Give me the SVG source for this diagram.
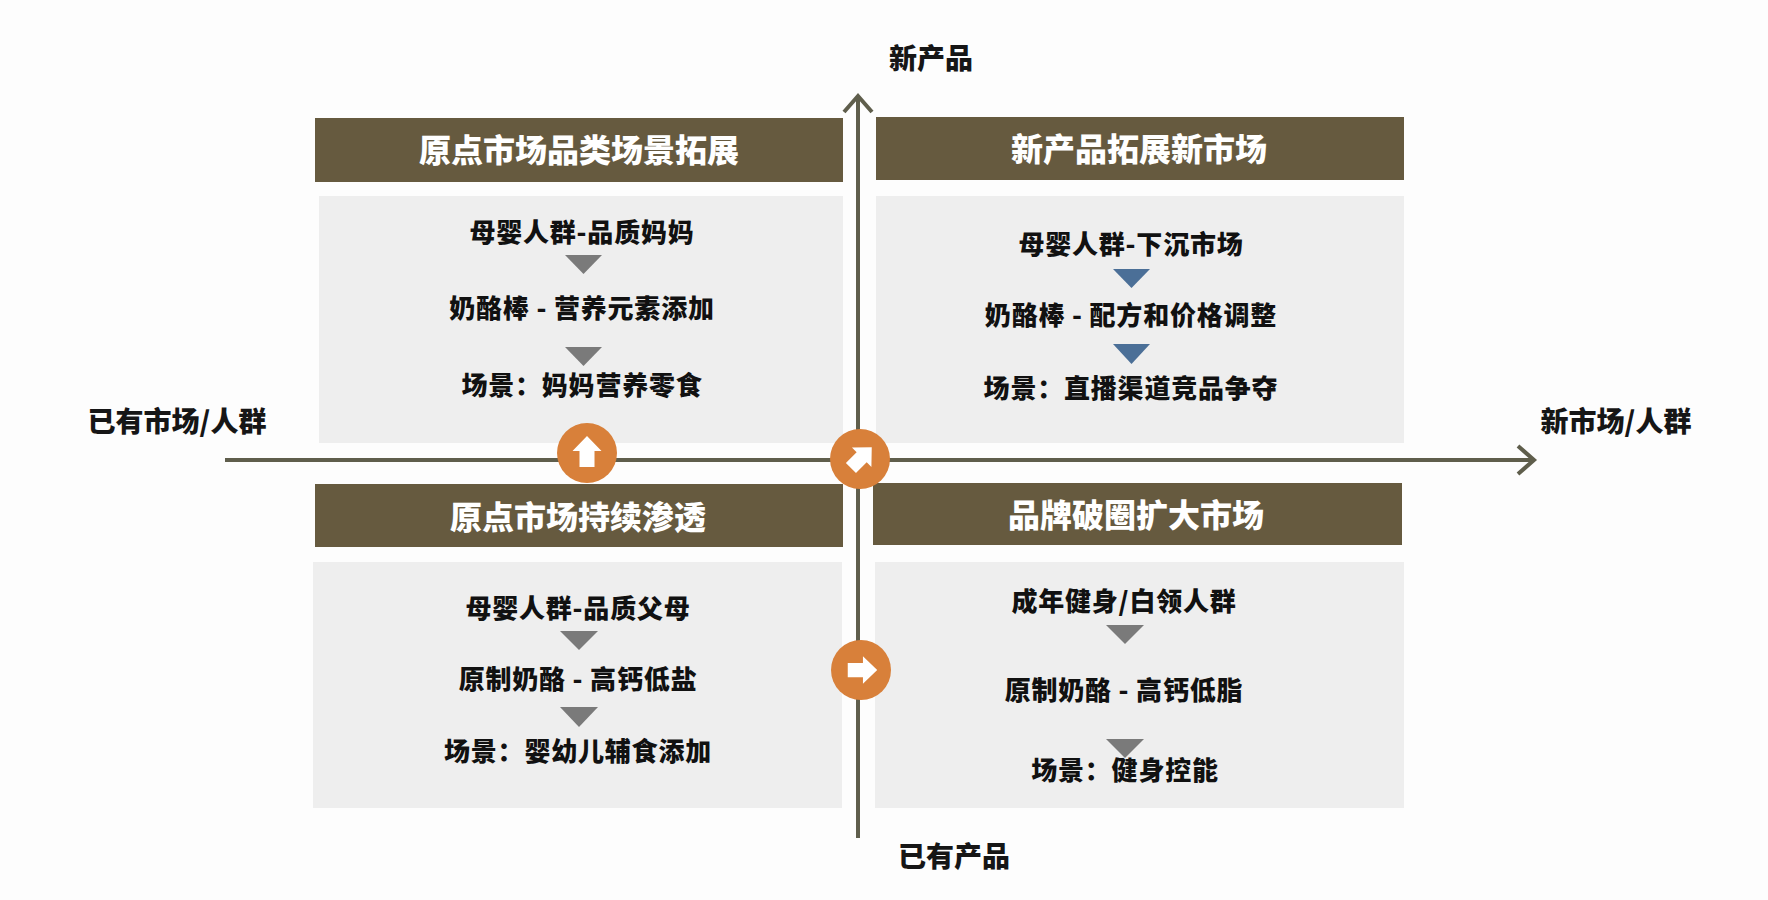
<svg xmlns="http://www.w3.org/2000/svg" xmlns:xlink="http://www.w3.org/1999/xlink" width="1768" height="900" viewBox="0 0 1768 900">
<style>
text{font-family:"Noto Sans CJK SC","Noto Sans",sans-serif;font-weight:700;dominant-baseline:central;text-anchor:middle}
.hdr{fill:#665a3f}
.hdrt{fill:#ffffff;font-size:32px;font-weight:900}
.box{fill:#eeeeee}
.body{fill:#111111;font-size:26px;font-weight:900;letter-spacing:0.8px}
.axt{fill:#161616;font-size:28px;font-weight:900}
.tri{fill:#7a7a7a}
.trib{fill:#4b6f97}
.axis{stroke:#5f5e4c;stroke-width:4;fill:none}
.circ{fill:#d8803a}
.ico{fill:#ffffff}
</style>
<defs>
<path id="upArrow" d="M0,-16 L14.5,-1 L7.5,-1 L7.5,15 L-7.5,15 L-7.5,-1 L-14.5,-1 Z"/>
</defs>
<rect x="0" y="0" width="1768" height="900" fill="#fdfdfd"/>

<g id="connectors">
  <line class="axis" x1="225" y1="460" x2="1533" y2="460"/>
  <polyline class="axis" points="1518,446 1534,460 1518,474"/>
  <line class="axis" x1="858" y1="838" x2="858" y2="97"/>
  <polyline class="axis" points="844,112 858,96 872,112"/>
</g>

<g id="axis-labels">
  <text class="axt" x="931" y="57">新产品</text>
  <text class="axt" x="954" y="855">已有产品</text>
  <text class="axt" x="177" y="420">已有市场/人群</text>
  <text class="axt" x="1616" y="420">新市场/人群</text>
</g>

<g id="q-top-left">
  <rect class="hdr" x="315" y="118" width="528" height="64"/>
  <text class="hdrt" x="579" y="148">原点市场品类场景拓展</text>
  <rect class="box" x="319" y="196" width="524" height="247"/>
  <text class="body" x="582" y="230">母婴人群-品质妈妈</text>
  <polygon class="tri" points="565,255 602,255 583.5,274"/>
  <text class="body" x="582" y="306">奶酪棒 - 营养元素添加</text>
  <polygon class="tri" points="565,347 602,347 583.5,366"/>
  <text class="body" x="582" y="383">场景：妈妈营养零食</text>
</g>

<g id="q-top-right">
  <rect class="hdr" x="876" y="117" width="528" height="63"/>
  <text class="hdrt" x="1139" y="147">新产品拓展新市场</text>
  <rect class="box" x="876" y="196" width="528" height="247"/>
  <text class="body" x="1131" y="242">母婴人群-下沉市场</text>
  <polygon class="trib" points="1113,269 1150,269 1131.5,288"/>
  <text class="body" x="1131" y="313">奶酪棒 - 配方和价格调整</text>
  <polygon class="trib" points="1113,344 1150,344 1131.5,364"/>
  <text class="body" x="1131" y="386">场景：直播渠道竞品争夺</text>
</g>

<g id="q-bottom-left">
  <rect class="hdr" x="315" y="484" width="528" height="63"/>
  <text class="hdrt" x="578" y="515">原点市场持续渗透</text>
  <rect class="box" x="313" y="562" width="529" height="246"/>
  <text class="body" x="578" y="606">母婴人群-品质父母</text>
  <polygon class="tri" points="560,631 598,631 579,650"/>
  <text class="body" x="578" y="677">原制奶酪 - 高钙低盐</text>
  <polygon class="tri" points="560,707 598,707 579,727"/>
  <text class="body" x="578" y="749">场景：婴幼儿辅食添加</text>
</g>

<g id="q-bottom-right">
  <rect class="hdr" x="873" y="483" width="529" height="62"/>
  <text class="hdrt" x="1136" y="513">品牌破圈扩大市场</text>
  <rect class="box" x="875" y="562" width="529" height="246"/>
  <text class="body" x="1124" y="599">成年健身/白领人群</text>
  <polygon class="tri" points="1106,625 1144,625 1125,644"/>
  <text class="body" x="1124" y="688">原制奶酪 - 高钙低脂</text>
  <polygon class="tri" points="1106,739 1144,739 1125,758"/>
  <text class="body" x="1125" y="768">场景：健身控能</text>
</g>

<g id="badge-up">
  <circle class="circ" cx="587" cy="453" r="30"/>
  <use xlink:href="#upArrow" href="#upArrow" class="ico" transform="translate(587,452)"/>
</g>
<g id="badge-diagonal">
  <circle class="circ" cx="860" cy="459" r="30"/>
  <use xlink:href="#upArrow" href="#upArrow" class="ico" transform="translate(861,458) rotate(45) scale(0.95)"/>
</g>
<g id="badge-right">
  <circle class="circ" cx="861" cy="670" r="30"/>
  <use xlink:href="#upArrow" href="#upArrow" class="ico" transform="translate(862,670) rotate(90) scale(0.95)"/>
</g>
</svg>
